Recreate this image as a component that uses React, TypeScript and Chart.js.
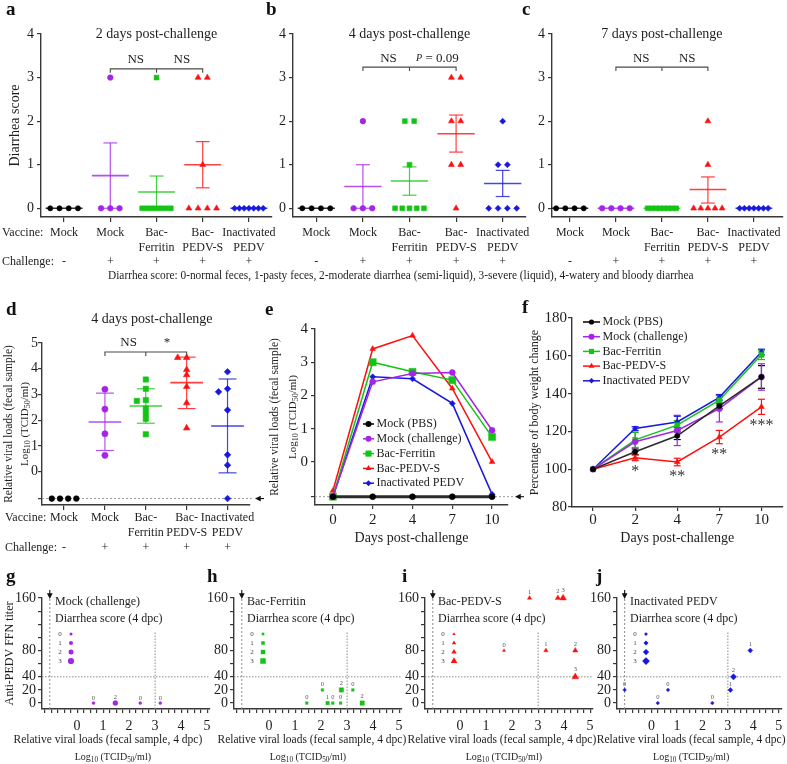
import React, { useEffect, useRef } from 'react';
import { Chart, registerables } from 'chart.js';

Chart.register(...registerables);

const PAGE_W = 787;
const PAGE_H = 764;
const SERIF = '"Liberation Serif", "Times New Roman", Times, serif';
const INK = '#1d1d1d';
const AXIS_COLOR = '#383838';
Chart.defaults.font.family = SERIF;

// ---------------- categories & labels ----------------
const groupNames = ['Mock', 'Mock', 'Bac-Ferritin', 'Bac-PEDV-S', 'Inactivated PEDV'];
const vaccineLines = [['Mock', ''], ['Mock', ''], ['Bac-', 'Ferritin'], ['Bac-', 'PEDV-S'], ['Inactivated', 'PEDV']];
const challengeSigns = ['-', '+', '+', '+', '+'];
const seriesNames = ['Mock (PBS)', 'Mock (challenge)', 'Bac-Ferritin', 'Bac-PEDV-S', 'Inactivated PEDV'];
const dayLabels = ['0', '2', '4', '7', '10'];
const LOD = -1.05;

const scoreTicks = [0, 1, 2, 3, 4];
const loadTicks = [LOD, 0, 1, 2, 3, 4, 5];
const curveTicks = [LOD, 0, 1, 2, 3, 4];
const weightTicks = [80, 100, 120, 140, 160, 180];
const titerTicks = [0, 20, 40, 60, 80, 100, 120, 140, 160];
const titerLabelled = [0, 20, 40, 80, 160];
const loadAxisTicks = Array.from({ length: 26 }, (_, i) => -1.25 + i * 0.25);
const loadAxisLabelled = [0, 1, 2, 3, 4, 5];

// ---------------- a–c: diarrhea score per animal ----------------
const score2dpc = [
  [0, 0, 0, 0],
  [3, 0, 0, 0],
  [3, 0, 0, 0, 0, 0, 0, 0],
  [3, 3, 1, 0, 0, 0, 0],
  [0, 0, 0, 0, 0, 0, 0],
];
const score4dpc = [
  [0, 0, 0, 0],
  [0, 0, 2, 0],
  [2, 0, 2, 0, 0, 1, 0, 0],
  [2, 3, 3, 2, 1, 1, 0],
  [1, 2, 1, 0, 0, 0, 0],
];
const score7dpc = [
  [0, 0, 0, 0],
  [0, 0, 0, 0],
  [0, 0, 0, 0, 0, 0, 0, 0],
  [2, 1, 0, 0, 0, 0, 0],
  [0, 0, 0, 0, 0, 0, 0],
];
const scoreMean2 = [0, 0.75, 0.375, 1.0, 0];
const scoreLow2 = [0, 0, 0, 0.47, 0];
const scoreHigh2 = [0, 1.5, 0.74, 1.53, 0];
const scoreMean4 = [0, 0.5, 0.625, 1.71, 0.57];
const scoreLow4 = [0, 0, 0.3, 1.29, 0.27];
const scoreHigh4 = [0, 1.0, 0.95, 2.14, 0.87];
const scoreMean7 = [0, 0, 0, 0.43, 0];
const scoreLow7 = [0, 0, 0, 0.12, 0];
const scoreHigh7 = [0, 0, 0, 0.72, 0];

// ---------------- d, g–j: per animal at 4 dpc ----------------
const load4dpc = [
  [LOD, LOD, LOD, LOD],
  [3.2, 2.43, 1.47, 0.63],
  [3.58, 3.22, 2.78, 2.75, 2.45, 2.25, 2.05, 1.45],
  [4.43, 4.43, 3.96, 3.76, 3.3, 2.67, 1.69],
  [3.88, 3.22, 3.1, 2.39, 0.65, 0.25, LOD],
];
const titer4dpc = [
  [0, 0, 0, 0],
  [0, 0, 0, 0],
  [0, 20, 20, 0, 0, 0, 20, 0],
  [80, 40, 160, 160, 80, 160, 80],
  [80, 40, 20, 0, 20, 0, 20],
];
const loadMean4 = [null, 1.93, 2.55, 3.46, 1.77];
const loadLow4 = [null, 0.82, 1.88, 2.45, -0.05];
const loadHigh4 = [null, 3.05, 3.22, 4.45, 3.6];

// ---------------- e: viral load curves ----------------
const curveMockPBS = [LOD, LOD, LOD, LOD, LOD];
const curveMockCh = [LOD, 2.41, 2.66, 2.69, 0.95];
const curveFerritin = [LOD, 3.0, 2.71, 2.46, 0.75];
const curvePedvS = [-0.87, 3.4, 3.8, 2.21, 0.0];
const curveInact = [LOD, 2.56, 2.5, 1.76, -0.98];

// ---------------- f: body weight ----------------
const weightMockPBS = [100, 109.2, 117.7, 133.5, 148.8];
const weightMockCh = [100, 114.5, 120.5, 132, 148.8];
const weightFerritin = [100, 115.5, 123.3, 136.5, 160.5];
const weightPedvS = [100, 106, 103.8, 117, 133];
const weightInact = [100, 121.5, 125, 138, 162];
const weightErrMockPBS = [0, 1.5, 2, 1.5, 6];
const weightErrMockCh = [0, 5, 8, 7, 7];
const weightErrFerritin = [0, 4, 2.5, 2.5, 2.5];
const weightErrPedvS = [0, 1.5, 2, 3.5, 4];
const weightErrInact = [0, 1, 3, 1.5, 1.5];
const weightSignif = ['', '*', '**', '**', '***'];

// ---------------- styles ----------------
const groupColors = ['#000000', '#a424e8', '#14c414', '#ff1010', '#1818e0'];
const groupShapes = ['circle', 'circle', 'rect', 'triangle', 'rectRot'];
const bubbleRadius = [1.5, 2.0, 2.5, 3.1];
const logParts = [{ t: 'Log' }, { t: '10', sub: true }, { t: ' (TCID' }, { t: '50', sub: true }, { t: '/ml)' }];

type Part = { t: string; sub?: boolean; italic?: boolean; scale?: number };
type Rect = { l: number; t: number; r: number; b: number };

// ---------------- drawing helpers ----------------
function seg(ctx: any, x1: number, y1: number, x2: number, y2: number) {
  ctx.beginPath();
  ctx.moveTo(x1, y1);
  ctx.lineTo(x2, y2);
  ctx.stroke();
}
function dashedLine(ctx: any, x1: number, y1: number, x2: number, y2: number, color: string, dash: number[], w = 1) {
  ctx.save();
  ctx.strokeStyle = color;
  ctx.lineWidth = w;
  ctx.setLineDash(dash);
  seg(ctx, x1, y1, x2, y2);
  ctx.restore();
}
function arrow(ctx: any, x1: number, y1: number, x2: number, y2: number) {
  const a = Math.atan2(y2 - y1, x2 - x1);
  const h = 3.6;
  ctx.save();
  ctx.strokeStyle = '#111';
  ctx.fillStyle = '#111';
  ctx.lineWidth = 1.1;
  seg(ctx, x1, y1, x2 - Math.cos(a) * h, y2 - Math.sin(a) * h);
  ctx.beginPath();
  ctx.moveTo(x2, y2);
  ctx.lineTo(x2 - Math.cos(a) * h * 1.6 - Math.sin(a) * h * 0.8, y2 - Math.sin(a) * h * 1.6 + Math.cos(a) * h * 0.8);
  ctx.lineTo(x2 - Math.cos(a) * h * 1.6 + Math.sin(a) * h * 0.8, y2 - Math.sin(a) * h * 1.6 - Math.cos(a) * h * 0.8);
  ctx.closePath();
  ctx.fill();
  ctx.restore();
}
function drawText(ctx: any, str: string, x: number, y: number, size: number, o: any = {}) {
  ctx.save();
  ctx.font = `${o.italic ? 'italic ' : ''}${o.bold ? 'bold ' : ''}${size}px ${SERIF}`;
  ctx.fillStyle = o.color || INK;
  ctx.textAlign = o.align || 'center';
  ctx.textBaseline = 'middle';
  ctx.translate(x, y);
  if (o.rotate) ctx.rotate(o.rotate);
  ctx.fillText(str, 0, 0);
  ctx.restore();
}
function drawRich(ctx: any, parts: Part[], x: number, y: number, size: number, o: any = {}) {
  ctx.save();
  ctx.translate(x, y);
  if (o.rotate) ctx.rotate(o.rotate);
  ctx.textAlign = 'left';
  ctx.textBaseline = 'middle';
  ctx.fillStyle = o.color || INK;
  const fonts = parts.map((p) => `${p.italic ? 'italic ' : ''}${(p.sub ? 0.72 : p.scale || 1) * size}px ${SERIF}`);
  const widths = parts.map((p, i) => {
    ctx.font = fonts[i];
    return ctx.measureText(p.t).width;
  });
  const total = widths.reduce((a, b) => a + b, 0);
  let cx = o.align === 'left' ? 0 : -total / 2;
  parts.forEach((p, i) => {
    ctx.font = fonts[i];
    ctx.fillText(p.t, cx, p.sub ? size * 0.28 : 0);
    cx += widths[i];
  });
  ctx.restore();
}
function drawMarker(ctx: any, shape: string, x: number, y: number, r: number, color: string) {
  ctx.save();
  ctx.fillStyle = color;
  ctx.beginPath();
  if (shape === 'circle') ctx.arc(x, y, r, 0, Math.PI * 2);
  else if (shape === 'rect') {
    const h = r * Math.SQRT1_2;
    ctx.rect(x - h, y - h, 2 * h, 2 * h);
  } else if (shape === 'triangle') {
    for (let i = 0; i < 3; i++) {
      const a = (i * 2 * Math.PI) / 3;
      const px = x + Math.sin(a) * r;
      const py = y - Math.cos(a) * r;
      if (i) ctx.lineTo(px, py);
      else ctx.moveTo(px, py);
    }
    ctx.closePath();
  } else {
    ctx.moveTo(x, y - r);
    ctx.lineTo(x + r, y);
    ctx.lineTo(x, y + r);
    ctx.lineTo(x - r, y);
    ctx.closePath();
  }
  ctx.fill();
  ctx.restore();
}
function drawSeriesLegend(ctx: any, x0: number, y0: number, dy: number, lineLen: number, size: number, radii: number[]) {
  seriesNames.forEach((name, k) => {
    const y = y0 + k * dy;
    ctx.save();
    ctx.strokeStyle = groupColors[k];
    ctx.lineWidth = 1.5;
    seg(ctx, x0, y, x0 + lineLen, y);
    ctx.restore();
    drawMarker(ctx, groupShapes[k], x0 + lineLen / 2, y, radii[k], groupColors[k]);
    drawText(ctx, name, x0 + lineLen + 2.5, y, size, { align: 'left' });
  });
}

// ---------------- layout helpers ----------------
function layoutFor(rect: Rect, yW: number, xH: number) {
  return {
    padding: { left: rect.l - yW, top: rect.t, right: PAGE_W - rect.r, bottom: PAGE_H - rect.b - xH },
  };
}
function linearAxis(o: any) {
  return {
    type: 'linear',
    position: o.pos,
    min: o.min,
    max: o.max,
    bounds: 'data',
    afterBuildTicks: (axis: any) => {
      axis.ticks = o.ticks.map((v: number) => ({ value: v }));
    },
    afterFit: (axis: any) => {
      if (o.pos === 'left') axis.width = o.size;
      else axis.height = o.size;
    },
    ticks: {
      autoSkip: false,
      maxRotation: 0,
      minRotation: 0,
      padding: o.pad,
      color: INK,
      font: { family: SERIF, size: o.fontSize, lineHeight: o.lineHeight || 1.2 },
      callback: (v: number) => o.label(v),
    },
    grid: {
      display: true,
      drawOnChartArea: false,
      drawTicks: true,
      tickLength: o.tickLen,
      tickColor: AXIS_COLOR,
      tickWidth: 1.2,
      color: AXIS_COLOR,
      lineWidth: 1.2,
    },
    border: { display: true, color: AXIS_COLOR, width: 1.4 },
    title: o.title
      ? { display: true, text: o.title, color: INK, font: { family: SERIF, size: o.titleSize }, padding: { top: 0, bottom: 0 } }
      : { display: false },
  };
}
const baseOptions = {
  animation: false,
  responsive: false,
  events: [],
};
const quietPlugins = { legend: { display: false }, tooltip: { enabled: false } };

function spreadDiscrete(values: number[]): number[] {
  const counts = new Map<number, number>();
  values.forEach((v) => counts.set(v, (counts.get(v) || 0) + 1));
  const seen = new Map<number, number>();
  return values.map((v) => {
    const n = counts.get(v) || 1;
    const k = seen.get(v) || 0;
    seen.set(v, k + 1);
    const step = n > 1 ? Math.min(0.2, 0.62 / (n - 1)) : 0;
    return (k - (n - 1) / 2) * step;
  });
}
function spreadContinuous(values: number[], minGap: number): number[] {
  const slots = [0, -0.22, 0.22, -0.44, 0.44];
  const placed: { y: number; o: number }[] = [];
  return values.map((v) => {
    const o = slots.find((c) => !placed.some((p) => p.o === c && Math.abs(p.y - v) < minGap));
    const off = o === undefined ? 0 : o;
    placed.push({ y: v, o: off });
    return off;
  });
}

// ---------------- dot plots (a–d) ----------------
function dotPlotConfig(s: any) {
  const baseR = [2.6, 2.8, 3.4, 3.4, 3.0];
  const datasets = s.values.map((vals: number[], g: number) => {
    const same = vals.every((v) => v === vals[0]);
    const offs = s.continuous && !same ? spreadContinuous(vals, 0.2) : spreadDiscrete(vals);
    return {
      label: groupNames[g],
      data: vals.map((v, i) => ({ x: g + offs[i], y: v })),
      showLine: false,
      clip: false,
      pointStyle: groupShapes[g],
      pointRadius: baseR[g] * s.markScale,
      pointBackgroundColor: groupColors[g],
      pointBorderColor: groupColors[g],
      pointBorderWidth: 0.6,
    };
  });
  const lh = 12 * s.lineH;
  const decor = {
    id: 'dotDecor',
    beforeDatasetsDraw(chart: any) {
      const { ctx, chartArea: ca } = chart;
      const xs = chart.scales.x;
      const ys = chart.scales.y;
      if (s.lodLine) {
        const yl = ys.getPixelForValue(LOD);
        dashedLine(ctx, ca.left, yl, ca.right + 3, yl, '#9a9a9a', [2, 2]);
        arrow(ctx, ca.right + 14, yl, ca.right + 5, yl);
      }
      s.means.forEach((m: number | null, g: number) => {
        if (m === null) return;
        const xc = xs.getPixelForValue(g);
        const half = xs.getPixelForValue(g + 0.4) - xc;
        const cap = xs.getPixelForValue(g + s.capW) - xc;
        ctx.save();
        ctx.strokeStyle = groupColors[g];
        ctx.globalAlpha = 0.8;
        ctx.lineWidth = 1.6;
        const ym = ys.getPixelForValue(m);
        seg(ctx, xc - half, ym, xc + half, ym);
        const lo = s.lows[g];
        const hi = s.highs[g];
        if (hi > lo) {
          const yl = ys.getPixelForValue(lo);
          const yh = ys.getPixelForValue(hi);
          ctx.lineWidth = 1.2;
          seg(ctx, xc, yl, xc, yh);
          seg(ctx, xc - cap, yl, xc + cap, yl);
          seg(ctx, xc - cap, yh, xc + cap, yh);
        }
        ctx.restore();
      });
    },
    afterDraw(chart: any) {
      const { ctx, chartArea: ca } = chart;
      const xs = chart.scales.x;
      const ys = chart.scales.y;
      drawText(ctx, s.title, xs.getPixelForValue(s.titleX), ys.getPixelForValue(s.titleY) + s.titleDy, 14);
      const b = s.bracket;
      const yb = ys.getPixelForValue(b.y);
      const x1 = xs.getPixelForValue(b.from);
      const x2 = xs.getPixelForValue(b.to);
      const xm = xs.getPixelForValue(b.mid);
      ctx.save();
      ctx.strokeStyle = '#4a4a4a';
      ctx.lineWidth = 1.1;
      ctx.beginPath();
      ctx.moveTo(x1, yb + 4);
      ctx.lineTo(x1, yb);
      ctx.lineTo(x2, yb);
      ctx.lineTo(x2, yb + 4);
      ctx.moveTo(xm, yb);
      ctx.lineTo(xm, yb + 4);
      ctx.stroke();
      ctx.restore();
      b.labels.forEach((l: any) => drawRich(ctx, l.parts, xs.getPixelForValue(l.x), yb - 9, 13));
      if (s.rowHeaders) {
        const y0 = ca.bottom + 5 + s.xPad + lh / 2;
        drawText(ctx, 'Vaccine:', s.rowX, y0, 12, { align: 'left' });
        drawText(ctx, 'Challenge:', s.rowX, y0 + 2 * lh, 12, { align: 'left' });
      }
      if (s.richYTitle) {
        const yc = (ca.top + ca.bottom) / 2;
        drawRich(ctx, [{ t: 'Relative viral loads (fecal sample)' }], ca.left - 33, yc, 11.5, { rotate: -Math.PI / 2 });
        drawRich(ctx, logParts, ca.left - 17, yc, 11, { rotate: -Math.PI / 2 });
      }
    },
  };
  return {
    type: 'scatter',
    data: { datasets },
    options: {
      ...baseOptions,
      layout: layoutFor(s.rect, s.yW, s.xH),
      plugins: quietPlugins,
      scales: {
        x: linearAxis({
          pos: 'bottom', min: s.xMin, max: s.xMax, ticks: [0, 1, 2, 3, 4],
          label: (v: number) => [vaccineLines[v][0], vaccineLines[v][1], challengeSigns[v]],
          size: s.xH, fontSize: 12, lineHeight: s.lineH, pad: s.xPad, tickLen: 5,
        }),
        y: linearAxis({
          pos: 'left', min: s.yMin, max: s.yMax, ticks: s.yTicks, label: s.yLabel,
          size: s.yW, fontSize: 14, pad: s.yPad === undefined ? 3 : s.yPad, tickLen: 4, title: s.yTitle, titleSize: 14,
        }),
      },
    },
    plugins: [decor],
  };
}

const scoreBracketNS = [{ x: 1.55, parts: [{ t: 'NS' }] }, { x: 2.55, parts: [{ t: 'NS' }] }];

const makeA = () =>
  dotPlotConfig({
    rect: { l: 41, t: 34, r: 272, b: 217 }, yW: 34.4, xH: 60,
    xMin: -0.5, xMax: 4.5, yMin: -0.2, yMax: 4, yTicks: scoreTicks, yLabel: (v: number) => String(v),
    values: score2dpc, means: scoreMean2, lows: scoreLow2, highs: scoreHigh2,
    continuous: false, markScale: 1, capW: 0.15,
    title: '2 days post-challenge', titleX: 2, titleY: 4, titleDy: 0,
    bracket: { y: 3.2, from: 1, mid: 2, to: 3, labels: scoreBracketNS },
    yTitle: 'Diarrhea score', rowHeaders: true, lineH: 1.21, xPad: 3.75, rowX: 2,
  });
const makeB = () =>
  dotPlotConfig({
    rect: { l: 293, t: 34, r: 526, b: 217 }, yW: 30, xH: 60,
    xMin: -0.5, xMax: 4.5, yMin: -0.2, yMax: 4, yTicks: scoreTicks, yLabel: (v: number) => String(v),
    values: score4dpc, means: scoreMean4, lows: scoreLow4, highs: scoreHigh4,
    continuous: false, markScale: 1, capW: 0.15,
    title: '4 days post-challenge', titleX: 2, titleY: 4, titleDy: 0,
    bracket: {
      y: 3.24, from: 1, mid: 2, to: 3,
      labels: [
        { x: 1.55, parts: [{ t: 'NS' }] },
        { x: 2.6, parts: [{ t: 'P', italic: true, scale: 0.78 }, { t: ' = 0.09' }] },
      ],
    },
    rowHeaders: false, lineH: 1.21, xPad: 3.75,
  });
const makeC = () =>
  dotPlotConfig({
    rect: { l: 552, t: 34, r: 785, b: 217 }, yW: 30, xH: 60,
    xMin: -0.39, xMax: 4.62, yMin: -0.2, yMax: 4, yTicks: scoreTicks, yLabel: (v: number) => String(v),
    values: score7dpc, means: scoreMean7, lows: scoreLow7, highs: scoreHigh7,
    continuous: false, markScale: 1, capW: 0.15,
    title: '7 days post-challenge', titleX: 2, titleY: 4, titleDy: 0,
    bracket: { y: 3.24, from: 1, mid: 2, to: 3, labels: scoreBracketNS },
    rowHeaders: false, lineH: 1.21, xPad: 3.75,
  });
const makeD = () =>
  dotPlotConfig({
    rect: { l: 42, t: 343, r: 250, b: 505 }, yW: 42, xH: 60,
    xMin: -0.54, xMax: 4.55, yMin: -1.3, yMax: 5, yTicks: loadTicks,
    yLabel: (v: number) => (v === LOD ? '' : String(v)), yPad: 0,
    values: load4dpc, means: loadMean4, lows: loadLow4, highs: loadHigh4,
    continuous: true, markScale: 1.1, capW: 0.22,
    title: '4 days post-challenge', titleX: 2.15, titleY: 5, titleDy: -24,
    bracket: {
      y: 4.65, from: 1, mid: 2, to: 3,
      labels: [{ x: 1.58, parts: [{ t: 'NS' }] }, { x: 2.52, parts: [{ t: '*' }] }],
    },
    richYTitle: true, lodLine: true, rowHeaders: true, lineH: 1.25, xPad: 0.5, rowX: 5,
  });

// ---------------- curves (e, f) ----------------
function curveDatasets(series: number[][], radii: number[], widths: number[]) {
  return series.map((vals, k) => ({
    label: seriesNames[k],
    data: vals.map((v, i) => ({ x: i, y: v })),
    showLine: true,
    clip: false,
    tension: 0,
    borderColor: k === 0 ? '#2b2b2b' : groupColors[k],
    borderWidth: widths[k],
    pointStyle: groupShapes[k],
    pointRadius: radii[k],
    pointBackgroundColor: groupColors[k],
    pointBorderColor: groupColors[k],
    pointBorderWidth: 0.5,
  }));
}

const makeE = () => {
  const rect = { l: 315, t: 329, r: 508, b: 505 };
  const radii = [3, 3, 5, 3.3, 3];
  return {
    type: 'scatter',
    data: {
      datasets: curveDatasets(
        [curveMockPBS, curveMockCh, curveFerritin, curvePedvS, curveInact],
        radii,
        [3, 1.5, 1.5, 1.5, 1.5]
      ),
    },
    options: {
      ...baseOptions,
      layout: layoutFor(rect, 50, 41.4),
      plugins: quietPlugins,
      scales: {
        x: linearAxis({
          pos: 'bottom', min: -0.45, max: 4.4, ticks: [0, 1, 2, 3, 4], label: (v: number) => dayLabels[v],
          size: 41.4, fontSize: 15, pad: 2, tickLen: 4, title: 'Days post-challenge', titleSize: 14,
        }),
        y: linearAxis({
          pos: 'left', min: -1.3, max: 4, ticks: curveTicks, label: (v: number) => (v === LOD ? '' : String(v)),
          size: 50, fontSize: 15, pad: 3, tickLen: 4,
        }),
      },
    },
    plugins: [
      {
        id: 'curveDecor',
        beforeDatasetsDraw(chart: any) {
          const { ctx, chartArea: ca } = chart;
          const yl = chart.scales.y.getPixelForValue(LOD);
          dashedLine(ctx, ca.left, yl, ca.right + 5, yl, '#9a9a9a', [2, 2]);
          arrow(ctx, ca.right + 16, yl, ca.right + 7, yl);
        },
        afterDraw(chart: any) {
          const { ctx, chartArea: ca } = chart;
          drawSeriesLegend(ctx, ca.left + 48, ca.top + 95, 14.8, 11, 12, [3, 3, 4.3, 3.3, 3]);
          const yc = (ca.top + ca.bottom) / 2;
          drawRich(ctx, [{ t: 'Relative viral loads (fecal sample)' }], ca.left - 40, yc, 11.5, { rotate: -Math.PI / 2 });
          drawRich(ctx, logParts, ca.left - 22, yc, 11, { rotate: -Math.PI / 2 });
        },
      },
    ],
  };
};

const makeF = () => {
  const rect = { l: 572, t: 318, r: 785, b: 507 };
  const series = [weightMockPBS, weightMockCh, weightFerritin, weightPedvS, weightInact];
  const errs = [weightErrMockPBS, weightErrMockCh, weightErrFerritin, weightErrPedvS, weightErrInact];
  const radii = [2.6, 3, 3.6, 3.4, 2.8];
  return {
    type: 'scatter',
    data: { datasets: curveDatasets(series, radii, [1.5, 1.5, 1.5, 1.5, 1.5]) },
    options: {
      ...baseOptions,
      layout: layoutFor(rect, 44.2, 39.4),
      plugins: quietPlugins,
      scales: {
        x: linearAxis({
          pos: 'bottom', min: -0.5, max: 4.5, ticks: [0, 1, 2, 3, 4], label: (v: number) => dayLabels[v],
          size: 39.4, fontSize: 15, pad: 0, tickLen: 4, title: 'Days post-challenge', titleSize: 14,
        }),
        y: linearAxis({
          pos: 'left', min: 80, max: 180, ticks: weightTicks, label: (v: number) => String(v),
          size: 44.2, fontSize: 15, pad: 1, tickLen: 4, title: 'Percentage of body weight change', titleSize: 12,
        }),
      },
    },
    plugins: [
      {
        id: 'weightDecor',
        beforeDatasetsDraw(chart: any) {
          const { ctx } = chart;
          const xs = chart.scales.x;
          const ys = chart.scales.y;
          series.forEach((vals, k) =>
            vals.forEach((v, i) => {
              const e = errs[k][i];
              if (!e) return;
              const x = xs.getPixelForValue(i);
              const y1 = ys.getPixelForValue(v - e);
              const y2 = ys.getPixelForValue(v + e);
              ctx.save();
              ctx.strokeStyle = groupColors[k];
              ctx.lineWidth = 1.2;
              seg(ctx, x, y1, x, y2);
              seg(ctx, x - 3.5, y1, x + 3.5, y1);
              seg(ctx, x - 3.5, y2, x + 3.5, y2);
              ctx.restore();
            })
          );
        },
        afterDraw(chart: any) {
          const { ctx, chartArea: ca } = chart;
          const xs = chart.scales.x;
          const ys = chart.scales.y;
          weightSignif.forEach((t, i) => {
            if (!t) return;
            const y = ys.getPixelForValue(weightPedvS[i] - weightErrPedvS[i]) + 11;
            drawText(ctx, t, xs.getPixelForValue(i), y, 16, { color: '#333' });
          });
          drawSeriesLegend(ctx, ca.left + 11, ca.top + 4, 14.7, 17, 12, radii);
        },
      },
    ],
  };
};

// ---------------- titer vs viral load (g–j) ----------------
function titerConfig(s: any) {
  const g = s.g;
  const shape = groupShapes[g];
  const color = groupColors[g];
  const loads = load4dpc[g];
  const titers = titer4dpc[g];
  const scores = score4dpc[g];
  const rad = (k: number) => bubbleRadius[k] * (shape === 'circle' ? 1 : 1.25);
  return {
    type: 'scatter',
    data: {
      datasets: [
        {
          label: seriesNames[g],
          data: loads.map((x, i) => ({ x, y: titers[i] })),
          showLine: false,
          clip: false,
          pointStyle: shape,
          pointRadius: scores.map(rad),
          pointBackgroundColor: color,
          pointBorderColor: color,
          pointBorderWidth: 0.4,
        },
      ],
    },
    options: {
      ...baseOptions,
      layout: layoutFor(s.rect, s.yW, 50),
      plugins: quietPlugins,
      scales: {
        x: linearAxis({
          pos: 'bottom', min: -1.35, max: 5.1, ticks: loadAxisTicks,
          label: (v: number) => (loadAxisLabelled.includes(v) ? String(v) : ''),
          size: 50, fontSize: 14, pad: 4.6, tickLen: 4,
        }),
        y: linearAxis({
          pos: 'left', min: -9, max: 160, ticks: titerTicks,
          label: (v: number) => (titerLabelled.includes(v) ? String(v) : ''),
          size: s.yW, fontSize: 14, pad: 2, tickLen: 4,
          title: s.yTitle ? 'Anti-PEDV FFN titer' : undefined, titleSize: 12,
        }),
      },
    },
    plugins: [
      {
        id: 'titerDecor',
        beforeDatasetsDraw(chart: any) {
          const { ctx, chartArea: ca } = chart;
          const xs = chart.scales.x;
          const ys = chart.scales.y;
          const y40 = ys.getPixelForValue(40);
          dashedLine(ctx, ca.left, y40, ca.right, y40, '#8a8a8a', [1.5, 1.5]);
          const x3 = xs.getPixelForValue(3);
          dashedLine(ctx, x3, ca.bottom, x3, ys.getPixelForValue(108), '#8a8a8a', [1.5, 1.5]);
          const xl = xs.getPixelForValue(LOD);
          dashedLine(ctx, xl, ca.bottom, xl, ca.top, '#8a8a8a', [2, 2]);
          arrow(ctx, xl, ca.top - 8, xl, ca.top + 1);
        },
        afterDraw(chart: any) {
          const { ctx, chartArea: ca } = chart;
          const meta = chart.getDatasetMeta(0);
          meta.data.forEach((el: any, i: number) => {
            drawText(ctx, String(scores[i]), el.x, el.y - rad(scores[i]) - 3.5, 6.5, { color: '#555' });
          });
          drawText(ctx, seriesNames[g], ca.left + 13, ca.top + 4, 12, { align: 'left' });
          drawText(ctx, 'Diarrhea score (4 dpc)', ca.left + 13, ca.top + 21, 12, { align: 'left' });
          [0, 1, 2, 3].forEach((k) => {
            const y = ca.top + 36 + k * 9;
            drawText(ctx, String(k), ca.left + 18, y, 7, { color: '#444' });
            drawMarker(ctx, shape, ca.left + 29, y, rad(k), color);
          });
          const cx = (ca.left + ca.right) / 2;
          drawText(ctx, 'Relative viral loads (fecal sample, 4 dpc)', cx + s.dx1, ca.bottom + 31, 11.5);
          drawRich(ctx, logParts, cx + s.dx2, ca.bottom + 48, 10);
        },
      },
    ],
  };
}

const makeG = () => titerConfig({ rect: { l: 42, t: 598, r: 209.7, b: 709 }, g: 1, yW: 39.2, yTitle: true, dx1: -18, dx2: -13 });
const makeH = () => titerConfig({ rect: { l: 234, t: 598, r: 401.7, b: 709 }, g: 2, yW: 30, yTitle: false, dx1: -6, dx2: -10 });
const makeI = () => titerConfig({ rect: { l: 425, t: 598, r: 592.7, b: 709 }, g: 3, yW: 30, yTitle: false, dx1: -7, dx2: -5 });
const makeJ = () => titerConfig({ rect: { l: 617, t: 598, r: 784.7, b: 709 }, g: 4, yW: 30, yTitle: false, dx1: -8, dx2: -8 });

const panelMakers = [makeA, makeB, makeC, makeD, makeE, makeF, makeG, makeH, makeI, makeJ];

const panelLetters = [
  { ch: 'a', x: 6, y: 15 },
  { ch: 'b', x: 266, y: 15 },
  { ch: 'c', x: 522, y: 15 },
  { ch: 'd', x: 6, y: 315 },
  { ch: 'e', x: 265, y: 315 },
  { ch: 'f', x: 522, y: 313 },
  { ch: 'g', x: 6, y: 582 },
  { ch: 'h', x: 207, y: 582 },
  { ch: 'i', x: 402, y: 582 },
  { ch: 'j', x: 596, y: 582 },
];

function ChartCanvas({ make }: { make: () => any }) {
  const ref = useRef<HTMLCanvasElement | null>(null);
  useEffect(() => {
    if (!ref.current) return;
    const chart = new Chart(ref.current, make());
    return () => chart.destroy();
  }, [make]);
  return (
    <canvas
      ref={ref}
      width={PAGE_W}
      height={PAGE_H}
      style={{ position: 'absolute', left: 0, top: 0, width: PAGE_W, height: PAGE_H }}
    />
  );
}

export default function App() {
  return (
    <div
      style={{
        position: 'absolute', left: 0, top: 0, width: PAGE_W, height: PAGE_H,
        background: '#ffffff', overflow: 'hidden', fontFamily: SERIF, color: INK,
      }}
    >
      {panelMakers.map((make, i) => (
        <ChartCanvas key={i} make={make} />
      ))}
      {panelLetters.map((p) => (
        <div
          key={p.ch}
          style={{
            position: 'absolute', left: p.x, top: p.y - 16, fontSize: 19, lineHeight: '19px',
            fontWeight: 'bold', fontFamily: SERIF, color: '#111',
          }}
        >
          {p.ch}
        </div>
      ))}
      <div
        style={{
          position: 'absolute', left: 108, top: 268, fontSize: 13, lineHeight: '14px', whiteSpace: 'nowrap',
          transform: 'scaleX(0.873)', transformOrigin: '0 0', fontFamily: SERIF,
        }}
      >
        Diarrhea score: 0-normal feces, 1-pasty feces, 2-moderate diarrhea (semi-liquid), 3-severe (liquid), 4-watery and bloody diarrhea
      </div>
    </div>
  );
}
